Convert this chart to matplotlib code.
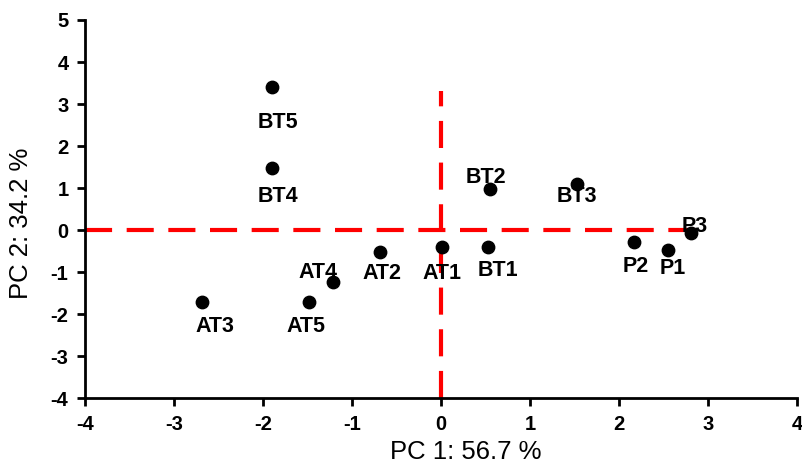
import matplotlib.pyplot as plt
import numpy as np

plt.rcParams['font.family'] = ['Liberation Sans', 'DejaVu Sans']
plt.rcParams['axes.unicode_minus'] = False

# PCA scores
names = ['AT1', 'AT2', 'AT3', 'AT4', 'AT5', 'BT1', 'BT2', 'BT3', 'BT4', 'BT5', 'P1', 'P2', 'P3']
pc1 = [0.01, -0.69, -2.69, -1.22, -1.49, 0.52, 0.55, 1.52, -1.90, -1.90, 2.55, 2.16, 2.80]
pc2 = [-0.41, -0.53, -1.71, -1.24, -1.71, -0.41, 0.98, 1.10, 1.48, 3.40, -0.48, -0.28, -0.07]

# label offsets from each point, in pixels
label_dx = [0, 2, 13, -15, -3, 10, -4, 0, 6, 6, 4, 2, 4]
label_dy = [-26, -21, -25, 10, -25, -23, 11, -13, -29, -35, -18, -25, 6]

fig = plt.figure(figsize=(8.03, 4.65), dpi=100)
ax = fig.add_axes([0.106, 0.144, 0.887, 0.813])

# red dashed reference lines through the origin
ax.plot([-4, 2.85], [0, 0], color='#ff0000', lw=3, dashes=(6.5, 3.5), zorder=1)
ax.plot([0, 0], [-4, 3.3], color='#ff0000', lw=3, dashes=(6.5, 3.5), zorder=1)

ax.scatter(pc1, pc2, s=80, color='black', zorder=3)
for n, x, y, dx, dy in zip(names, pc1, pc2, label_dx, label_dy):
    ax.annotate(n, (x, y), xytext=(dx, dy), textcoords='offset pixels',
                ha='center', va='center', fontsize=15.5, fontweight='bold', zorder=4)

ax.set_xlim(-4, 4)
ax.set_ylim(-4, 5)
ax.set_xticks(np.arange(-4, 5, 1))
ax.set_yticks(np.arange(-4, 6, 1))
ax.spines['top'].set_visible(False)
ax.spines['right'].set_visible(False)
for s in ['left', 'bottom']:
    ax.spines[s].set_linewidth(2)
ax.tick_params(direction='out', length=6, width=2, labelsize=14.5, pad=6)
for lab in ax.get_xticklabels() + ax.get_yticklabels():
    lab.set_fontweight('bold')

ax.set_xlabel('PC 1: 56.7 %', fontsize=18.5)
ax.set_ylabel('PC 2: 34.2 %', fontsize=18.5)
ax.xaxis.set_label_coords(0.534, -0.11)
ax.yaxis.set_label_coords(-0.073, 0.463)

fig.savefig('out.png', dpi=100)
